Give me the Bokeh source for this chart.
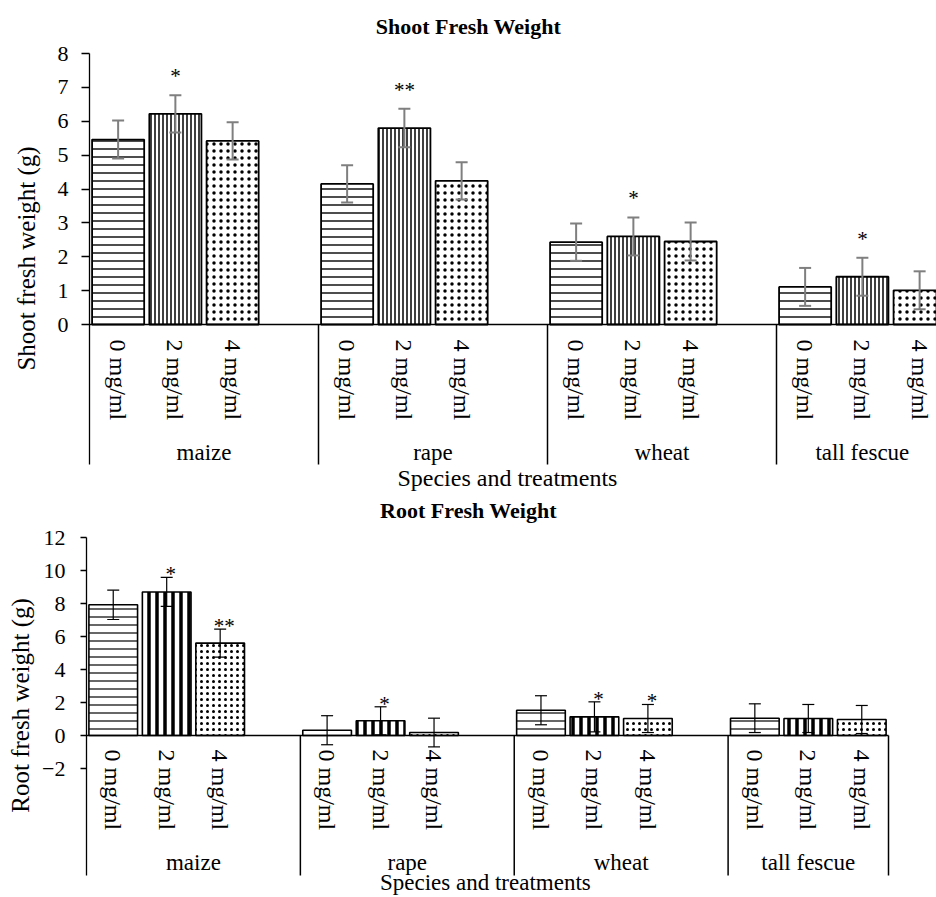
import math
import numpy as np
from bokeh.plotting import figure
from bokeh.models import (Range1d, LinearAxis, FixedTicker, ColumnDataSource,
                          Whisker, TeeHead)
from bokeh.layouts import column
from bokeh.embed import file_html
from bokeh.resources import INLINE
from bokeh.core.properties import value

# ---------------- data ----------------
species = ["maize", "rape", "wheat", "tall fescue"]
treatments = ["0 mg/ml", "2 mg/ml", "4 mg/ml"]
slots_per_group = [4, 4, 4, 3]

shoot_0mg = [5.46, 4.15, 2.43, 1.11]
shoot_2mg = [6.22, 5.80, 2.60, 1.41]
shoot_4mg = [5.42, 4.24, 2.45, 1.01]
shoot_err_0mg = [0.56, 0.55, 0.55, 0.56]
shoot_err_2mg = [0.55, 0.57, 0.56, 0.56]
shoot_err_4mg = [0.55, 0.55, 0.56, 0.56]
shoot_sig_0mg = ["", "", "", ""]
shoot_sig_2mg = ["*", "**", "*", "*"]
shoot_sig_4mg = ["", "", "", ""]

root_0mg = [7.92, 0.32, 1.53, 1.05]
root_2mg = [8.70, 0.89, 1.13, 1.03]
root_4mg = [5.60, 0.18, 1.03, 0.97]
root_err_0mg = [0.89, 0.88, 0.88, 0.87]
root_err_2mg = [0.88, 0.85, 0.91, 0.85]
root_err_4mg = [0.85, 0.87, 0.85, 0.85]
root_sig_0mg = ["", "", "", ""]
root_sig_2mg = ["*", "*", "*", ""]
root_sig_4mg = ["**", "", "*", ""]

shoot_yticks = [0, 1, 2, 3, 4, 5, 6, 7, 8]
root_yticks = [-2, 0, 2, 4, 6, 8, 10, 12]

FONT = "Liberation Serif"

# slot layout (category positions on the axis)
group_starts = np.cumsum([0] + slots_per_group[:-1]).tolist()
n_slots = sum(slots_per_group)
positions = [[group_starts[g] + ti + 0.5 for g in range(len(species))]
             for ti in range(len(treatments))]
group_centers = [group_starts[g] + slots_per_group[g] / 2 for g in range(len(species))]
boundaries = group_starts[1:] + [n_slots]


def build(cfg):
    p = figure(width=936, height=cfg["height"],
               x_range=Range1d(*cfg["xr"]), y_range=Range1d(*cfg["yr"]),
               output_backend="svg", toolbar_location=None,
               x_axis_location=None, y_axis_location=None,
               min_border_left=0, min_border_right=0,
               min_border_top=0, min_border_bottom=0)
    p.outline_line_color = None
    p.grid.visible = False
    p.background_fill_color = "white"
    y_bottom = cfg["sep_bottom"]
    y_top = cfg["yticks"][-1]

    # y axis
    yax = LinearAxis(ticker=FixedTicker(ticks=cfg["yticks"]),
                     fixed_location=0, bounds=(y_bottom, y_top))
    yax.axis_line_color = "black"
    yax.axis_line_width = 1.3
    yax.major_tick_in = 0
    yax.major_tick_out = cfg["tick_out"]
    yax.major_tick_line_width = 1.3
    yax.minor_tick_line_color = None
    yax.major_label_standoff = cfg["ylab_standoff"]
    yax.major_label_text_font = FONT
    yax.major_label_text_font_size = "22px"
    yax.major_label_text_color = "black"
    p.add_layout(yax, "left")

    # treatment labels axis (at y = 0)
    tick_pos = sorted(x for row in positions for x in row)
    tick_lab = {}
    for ti, t in enumerate(treatments):
        for x in positions[ti]:
            tick_lab[x] = t
    tax = LinearAxis(ticker=FixedTicker(ticks=tick_pos),
                     major_label_overrides=tick_lab, fixed_location=0,
                     bounds=(0, n_slots))
    tax.axis_line_color = "black"
    tax.axis_line_width = 1.5
    tax.major_tick_out = 0
    tax.major_tick_in = 0
    tax.major_tick_line_color = None
    tax.minor_tick_line_color = None
    tax.major_label_orientation = "vertical"
    tax.major_label_standoff = cfg["treat_standoff"]
    tax.major_label_text_font = FONT
    tax.major_label_text_font_size = "24px"
    tax.major_label_text_color = "black"
    p.add_layout(tax, "below")

    # species labels axis
    gax = LinearAxis(ticker=FixedTicker(ticks=group_centers),
                     major_label_overrides={c: s for c, s in zip(group_centers, species)},
                     fixed_location=0)
    gax.axis_line_color = None
    gax.major_tick_out = 0
    gax.major_tick_in = 0
    gax.major_tick_line_color = None
    gax.minor_tick_line_color = None
    gax.major_label_standoff = cfg["group_standoff"]
    gax.major_label_text_font = FONT
    gax.major_label_text_font_size = "23px"
    gax.major_label_text_color = "black"
    p.add_layout(gax, "below")

    # group separators
    p.segment(x0=boundaries, x1=boundaries, y0=[0] * len(boundaries),
              y1=[y_bottom] * len(boundaries),
              line_color="black", line_width=1.5)

    # bars, error bars, significance marks
    for ti, t in enumerate(treatments):
        m = cfg["means"][ti]
        e = cfg["errs"][ti]
        src = ColumnDataSource(dict(
            x=positions[ti], top=m,
            upper=[a + b for a, b in zip(m, e)],
            lower=[a - b for a, b in zip(m, e)],
            sig=cfg["sigs"][ti]))
        hp, hs, hw = cfg["hatch"][ti]
        p.vbar(x="x", top="top", bottom=0, width=0.91, source=src,
               fill_color="white", line_color="black", line_width=cfg["bar_lw"],
               hatch_pattern=value(hp), hatch_scale=hs, hatch_weight=hw,
               hatch_color="black")
        w = Whisker(base="x", upper="upper", lower="lower", source=src,
                    line_color=cfg["err_color"], line_width=cfg["err_w"],
                    upper_head=TeeHead(size=12, line_color=cfg["err_color"],
                                       line_width=cfg["err_w"]),
                    lower_head=TeeHead(size=12, line_color=cfg["err_color"],
                                       line_width=cfg["err_w"]),
                    level="overlay")
        p.add_layout(w)
        p.text(x="x", y="upper", text="sig", source=src,
               text_font=value(FONT), text_font_size="21px",
               text_align="center", text_baseline="alphabetic",
               text_color="black",
               x_offset=cfg["star_dx"], y_offset=cfg["star_dy"])

    # chart title, axis titles
    tx, ty = cfg["title_xy"]
    p.text(x=[tx], y=[ty], text=[cfg["title"]], text_font=value(FONT),
           text_font_size="22px", text_font_style="bold", text_align="center",
           text_baseline="middle", text_color="black")
    lx, ly = cfg["ylabel_xy"]
    p.text(x=[lx], y=[ly], text=[cfg["ylabel"]], angle=math.pi / 2,
           text_font=value(FONT), text_font_size="25px", text_align="center",
           text_baseline="middle", text_color="black")
    sx, sy = cfg["xlabel_xy"]
    p.text(x=[sx], y=[sy], text=["Species and treatments"], text_font=value(FONT),
           text_font_size=cfg["xlabel_size"], text_align="center",
           text_baseline="middle", text_color="black")
    return p


# top chart: 57.25 px per slot, 33.875 px per unit, origin at page (89, 324)
top_cfg = dict(
    height=492, xr=(-89 / 57.25, 847 / 57.25), yr=(-168 / 33.875, 324 / 33.875),
    sep_bottom=-4.133, yticks=shoot_yticks, ylabel="Shoot fresh weight (g)",
    tick_out=8, ylab_standoff=13, treat_standoff=15, group_standoff=115,
    bar_lw=1.8,
    means=[shoot_0mg, shoot_2mg, shoot_4mg],
    errs=[shoot_err_0mg, shoot_err_2mg, shoot_err_4mg],
    sigs=[shoot_sig_0mg, shoot_sig_2mg, shoot_sig_4mg],
    hatch=[("horizontal_line", 8, 1.4), ("vertical_line", 4, 1.5), ("dot", 7, 1)],
    err_color="#7f7f7f", err_w=2, star_dx=0, star_dy=-19,
    title="Shoot Fresh Weight", title_xy=(6.62, 8.797),
    ylabel_xy=(-1.10, 1.95), xlabel_xy=(7.30, -4.546), xlabel_size="24px",
)

# bottom chart: 53.467 px per slot, 16.5 px per unit, origin at page (86, 735)
bot_cfg = dict(
    height=405, xr=(-86 / 53.467, 850 / 53.467), yr=(-162 / 16.5, 243 / 16.5),
    sep_bottom=-8.485, yticks=root_yticks, ylabel="Root fresh weight (g)",
    tick_out=6, ylab_standoff=15, treat_standoff=14, group_standoff=114,
    bar_lw=1.6,
    means=[root_0mg, root_2mg, root_4mg],
    errs=[root_err_0mg, root_err_2mg, root_err_4mg],
    sigs=[root_sig_0mg, root_sig_2mg, root_sig_4mg],
    hatch=[("horizontal_line", 8, 1.2), ("vertical_line", 8, 3.5), ("dot", 6, 1)],
    err_color="black", err_w=1.2, star_dx=4, star_dy=-3,
    title="Root Fresh Weight", title_xy=(7.145, 13.636),
    ylabel_xy=(-1.234, 1.82), xlabel_xy=(7.46, -8.88), xlabel_size="23px",
)

p1 = build(top_cfg)
p2 = build(bot_cfg)
layout = column(p1, p2)

open("out.html", "w").write(file_html(layout, INLINE))
